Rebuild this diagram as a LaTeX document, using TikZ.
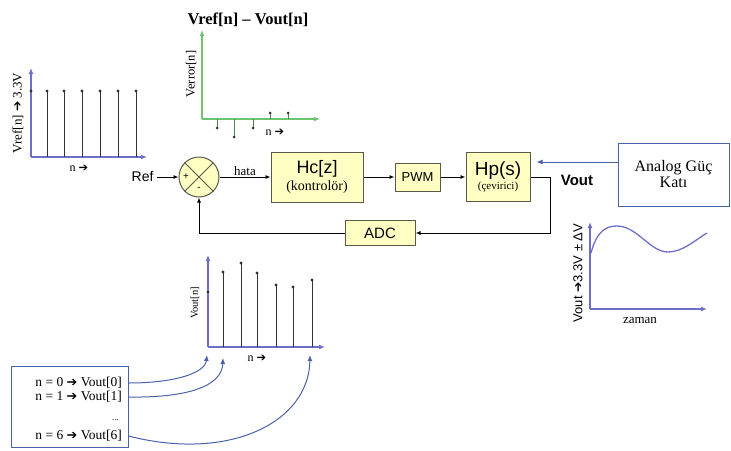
\documentclass[tikz,border=0pt]{standalone}
\usepackage{fontspec}
\setmainfont{Liberation Serif}
\setsansfont{Liberation Sans}
\newfontfamily\arrowfont{DejaVu Sans}
\usetikzlibrary{arrows.meta,positioning,calc}
\definecolor{axisblue}{HTML}{6E6EC8}
\definecolor{errgreen}{HTML}{6CC46C}
\definecolor{stemgray}{HTML}{333333}
\definecolor{boxfill}{HTML}{FFFFC4}
\definecolor{boxdraw}{HTML}{5A5A4A}
\definecolor{linkblue}{HTML}{4A62A8}
\newcommand{\setfs}[1]{\fontsize{#1}{#1}\selectfont}
\newcommand{\rarr}{\raisebox{0.02em}{\scalebox{0.95}{\arrowfont ➔}}}

\begin{document}
\begin{tikzpicture}[
  x=1pt, y=-1pt,
  blk/.style={draw=boxdraw, line width=1pt, fill=boxfill, align=center, inner sep=1pt},
  flow/.style={-{Latex[length=5pt,width=4pt]}, line width=0.9pt},
  axis/.style={-{Latex[length=6pt,width=5pt]}, line width=1.3pt, draw=axisblue},
  eaxis/.style={axis, draw=errgreen},
  stem/.style={line width=1pt, draw=stemgray},
  link/.style={-{Latex[length=6pt,width=5pt]}, line width=1pt, draw=linkblue},
  lbl/.style={font=\setfs{12}, inner sep=1pt},
]
\useasboundingbox (0,0) rectangle (731,450);

% Vref[n] plot
\draw[axis] (31,157) -- (147,157);
\draw[axis] (31,157) -- (31,68);
\fill[stemgray] (31,91) circle (1.6pt);
\foreach \x in {47,64,82,100,118,136} {
  \draw[stem] (\x,157) -- (\x,91);
  \fill[stemgray] (\x,91) circle (1.6pt);
}
\node[lbl, rotate=90, font=\setfs{13}] (vreflbl) at (18,113) {Vref[n] \rarr{} 3.3V};
\node[lbl] (vrefn) at (79,168) {n \rarr};

% Verror[n] plot
\node[font=\bfseries\setfs{16.5}] (ttl) at (248,20) {Vref[n] – Vout[n]};
\draw[eaxis] (202,119) -- (320,119);
\draw[eaxis] (202,119) -- (202,30);
\foreach \x/\y in {217/128,234/137,253/128,270/113,288/113} {
  \draw[stem, draw=errgreen!70!black] (\x,119) -- (\x,\y);
  \fill[stemgray] (\x,\y) circle (1.5pt);
}
\node[lbl, rotate=90, font=\setfs{12.5}] (errlbl) at (191,74) {Verror[n]};
\node[lbl] (errn) at (275,132) {n \rarr};

% loop
\node[circle, draw=boxdraw, line width=1pt, fill=boxfill, minimum size=40pt, inner sep=0pt] (sum) at (199,177) {};
\draw[boxdraw, line width=0.8pt] (sum.north east) -- (sum.south west)
  (sum.north west) -- (sum.south east);
\node[font=\sffamily\setfs{10}, inner sep=0pt] (plus) at (186,177) {+};
\node[font=\sffamily\setfs{10}, inner sep=0pt] (minus) at (199,189) {-};
\node[font=\sffamily\setfs{14}, anchor=east] (ref) at (157,177) {Ref};

\node[blk, right=51pt of sum, minimum width=92pt, minimum height=50pt] (hc)
  {{\sffamily\setfs{18}Hc[z]}\\[2pt]{\setfs{14}(kontrolör)}};
\node[blk, right=31pt of hc, minimum width=45pt, minimum height=28pt,
  font=\sffamily\setfs{13}] (pwm) {PWM};
\node[blk, right=25pt of pwm, minimum width=64pt, minimum height=49pt] (hp)
  {{\sffamily\setfs{19}Hp(s)}\\[2pt]{\setfs{11}(çevirici)}};
\node[blk, minimum width=70pt, minimum height=25pt, font=\sffamily\setfs{15}] (adc)
  at (380,233) {ADC};

\draw[flow] (ref) -- (sum);
\draw[flow] (sum) -- node[lbl, above, font=\setfs{13}] (hata) {hata} (hc);
\draw[flow] (hc) -- (pwm);
\draw[flow] (pwm) -- (hp);
\draw[flow] (hp.east) -- ++(20,0) |- (adc.east);
\draw[flow] (adc.west) -| (sum.south);

% power stage
\node[font=\sffamily\bfseries\setfs{15}] (vout) at (577,180) {Vout};
\node[draw=linkblue, line width=0.9pt, fill=white, minimum width=111pt,
  minimum height=63pt, align=center, font=\setfs{16}] (an) at (673.5,174.5)
  {Analog Güç\\Katı};
\coordinate (hpin) at ($(hp.east)+(6,-15)$);
\draw[link] (an.west |- hpin) -- (hpin);

% Vout waveform
\draw[axis] (590,309) -- (707,309);
\draw[axis] (590,309) -- (590,222);
\draw[axisblue, line width=1.3pt] (591,253) .. controls (597,230) and (607,226) .. (617,226)
  .. controls (637,226) and (650,252) .. (668,252)
  .. controls (683,252) and (695,240) .. (707,233);
\node[lbl, rotate=90, font=\sffamily\setfs{13}] (voutlbl) at (578,273) {Vout \rarr{}3.3V ± ΔV};
\node[lbl, font=\setfs{13}] (zaman) at (640,320) {zaman};

% Vout[n] samples
\draw[axis] (208,347) -- (325,347);
\draw[axis] (208,347) -- (208,255);
\fill[stemgray] (208,292) circle (1.6pt);
\foreach \x/\y in {223/272,241/263,257/273,276/285,293/287,312/280} {
  \draw[stem] (\x,347) -- (\x,\y);
  \fill[stemgray] (\x,\y) circle (1.6pt);
}
\node[lbl, rotate=90, font=\setfs{10.5}] (voutnlbl) at (195,303) {Vout[n]};
\node[lbl] (voutn) at (257,358) {n \rarr};

% sample table
\node[draw=linkblue, line width=0.9pt, minimum width=117pt, minimum height=81pt] (tbl) at (69.5,407) {};
\node[lbl, anchor=east, font=\setfs{13.5}] (t0) at (123,383) {n = 0 \rarr{} Vout[0]};
\node[lbl, anchor=east, font=\setfs{13.5}] (t1) at (123,397) {n = 1 \rarr{} Vout[1]};
\node[lbl, anchor=east, font=\setfs{9}] (tdots) at (120,420) {...};
\node[lbl, anchor=east, font=\setfs{13.5}] (t6) at (123,436) {n = 6 \rarr{} Vout[6]};
\coordinate (p0) at (207,355);
\coordinate (p1) at (223,358);
\coordinate (p6) at (310,355);
\draw[link] (tbl.east |- t0) .. controls (175,383) and (205,373) .. (p0);
\draw[link] (tbl.east |- t1) .. controls (188,398) and (222,386) .. (p1);
\draw[link] (tbl.east |- t6) .. controls (230,462) and (309,422) .. (p6);

\end{tikzpicture}
\end{document}
